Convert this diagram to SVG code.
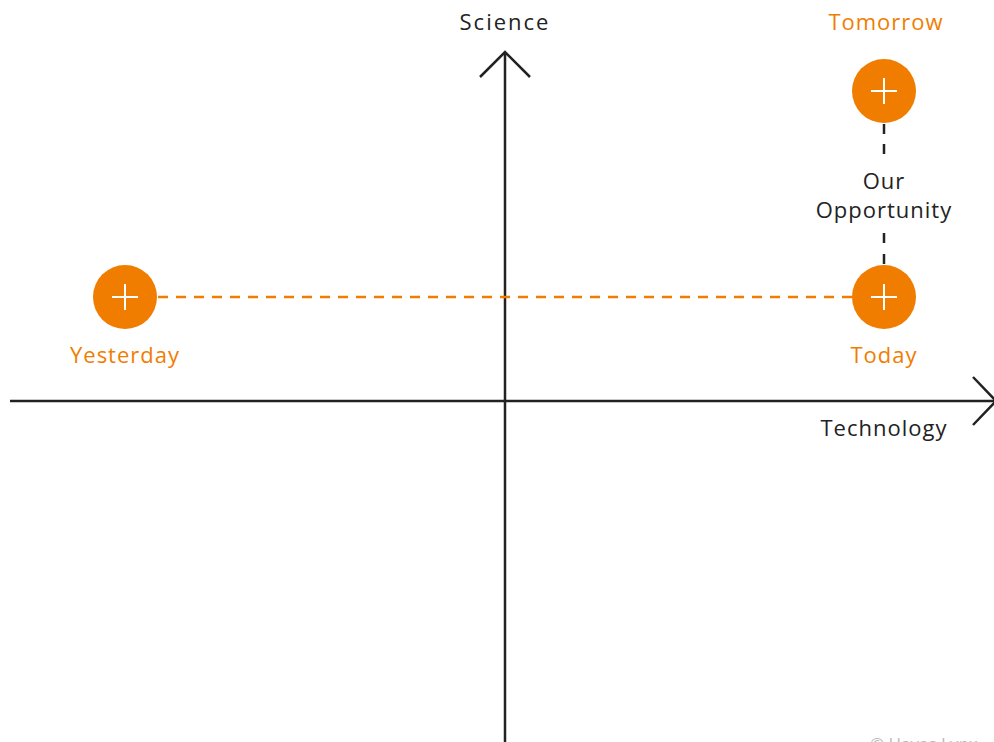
<svg xmlns="http://www.w3.org/2000/svg" width="994" height="742" viewBox="0 0 994 742">
<style>
.lbl{font-family:"Open Sans","Liberation Sans",sans-serif;font-size:22px;letter-spacing:1px;text-anchor:middle}
.dark{fill:#222}
.org{fill:#F07D00}
.axis{stroke:#222;stroke-width:2.5;fill:none}
.node circle{fill:#F07D00}
.plus{stroke:#fff;stroke-width:2}
</style>
<rect width="994" height="742" fill="#fff"/>
<g id="connectors">
<line x1="10" y1="401" x2="996" y2="401" class="axis"/>
<polyline points="973,377 996,401 973,425" class="axis"/>
<line x1="505" y1="742" x2="505" y2="52" class="axis"/>
<polyline points="480,77 505,52 530,77" class="axis"/>
<line x1="158" y1="297" x2="852" y2="297" stroke="#F07D00" stroke-width="2.5" stroke-dasharray="10,8"/>
<line x1="884" y1="124" x2="884" y2="158" stroke="#222" stroke-width="2.5" stroke-dasharray="10,10"/>
<line x1="884" y1="233" x2="884" y2="265" stroke="#222" stroke-width="2.5" stroke-dasharray="10,11"/>
</g>
<g id="tomorrow" class="node">
<circle cx="884" cy="91" r="32"/>
<path class="plus" d="M871 91H897M884 78V104"/>
<text class="lbl org" x="886" y="30">Tomorrow</text>
</g>
<g id="today" class="node">
<circle cx="884" cy="297" r="32"/>
<path class="plus" d="M871 297H897M884 284V310"/>
<text class="lbl org" x="884" y="363">Today</text>
</g>
<g id="yesterday" class="node">
<circle cx="125" cy="297" r="32"/>
<path class="plus" d="M112 297H138M125 284V310"/>
<text class="lbl org" x="125" y="363">Yesterday</text>
</g>
<g id="labels">
<text class="lbl dark" x="505" y="30" style="letter-spacing:2px">Science</text>
<text class="lbl dark" x="884" y="436">Technology</text>
<text class="lbl dark" x="884" y="189">Our</text>
<text class="lbl dark" x="884" y="218">Opportunity</text>
<text x="870" y="750" font-family="Open Sans, Liberation Sans, sans-serif" font-size="17" fill="#bbb">© Havas Lynx</text>
</g>
</svg>
